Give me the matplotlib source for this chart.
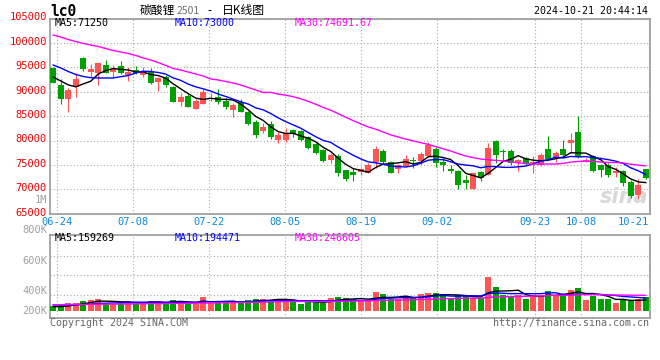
import numpy as np
import pandas as pd
import matplotlib
matplotlib.use('agg')
import matplotlib.pyplot as plt
from matplotlib import transforms

# one candle per trading day, 2024-06-21 .. 2024-10-21
opens = [94900, 91370, 88510, 91030, 96970, 94100, 93900, 95470, 94100, 95340,
         93420, 94450, 93420, 94100, 92060, 93080, 91030, 87960, 89190, 86460,
         87480, 89050, 88980, 88160, 86250, 87960, 85910, 83860, 81880, 83380,
         80100, 80100, 82150, 81950, 80650, 79220, 78050, 76000, 76830, 73900,
         73510, 73510, 73370, 75560, 77810, 75560, 74260, 74740, 76040, 75900,
         76790, 78360, 75630, 74260, 73720, 71870, 70100, 73510, 72830, 79860,
         77950, 77810, 75560, 76450, 75290, 75080, 78290, 76450, 78160, 79520,
         81710, 75800, 76790, 74950, 75000, 73240, 73800, 71400, 68830, 74090]
highs = [95000, 92540, 90830, 93900, 97180, 95680, 95880, 96500, 95470, 96360,
         94990, 95270, 94990, 94790, 93080, 93420, 91170, 89670, 89530, 88440,
         90490, 89800, 90490, 88640, 87620, 88440, 86120, 84200, 83520, 84000,
         81810, 82490, 82360, 82100, 80920, 79400, 78200, 77510, 77240, 73900,
         74400, 74400, 75290, 78840, 78160, 75770, 75220, 77130, 76650, 77680,
         79660, 78700, 76450, 75080, 73920, 73030, 73240, 73720, 79520, 80070,
         78160, 78160, 76240, 76650, 76790, 77470, 80890, 77810, 80200, 81570,
         85120, 76500, 76930, 75200, 75290, 74500, 73900, 72000, 72040, 74200]
lows = [91800, 87480, 85840, 88980, 94310, 93080, 91440, 93760, 93080, 93630,
        92260, 93630, 92940, 91580, 90210, 91030, 87820, 87070, 86800, 86460,
        87410, 88160, 87480, 86460, 84890, 85770, 83180, 80580, 81470, 80310,
        79560, 79760, 80650, 79970, 78260, 77240, 75660, 75320, 72730, 71700,
        71670, 73030, 73240, 74400, 75290, 73240, 73370, 74540, 74400, 75080,
        76650, 74540, 73720, 73240, 70100, 70100, 70100, 71670, 72830, 75420,
        75770, 75080, 73720, 75080, 73370, 74740, 75970, 75560, 76790, 77470,
        76450, 75500, 73500, 72500, 72550, 72600, 70600, 68300, 67950, 72040]
closes = [91850, 88510, 90350, 92600, 94650, 94650, 95880, 93900, 94650, 93760,
          94100, 93760, 94100, 91850, 92740, 91370, 87960, 88980, 86930, 88160,
          90010, 89190, 87960, 86930, 87280, 85910, 83380, 81130, 82840, 80650,
          81130, 81470, 81270, 80100, 78400, 77370, 75800, 77030, 73270, 72100,
          72960, 74060, 75080, 78160, 75560, 73370, 74950, 76240, 75770, 77270,
          79180, 75420, 74880, 73720, 70980, 71330, 73240, 72350, 78500, 76930,
          77610, 75420, 75970, 75290, 75560, 76930, 76110, 77470, 76930, 80070,
          76650, 76000, 73720, 73920, 72950, 73850, 71300, 68600, 70880, 72250]
volumes = [73000, 73000, 116000, 116000, 145000, 160000, 174000, 116000, 102000, 116000,
           145000, 102000, 102000, 145000, 145000, 116000, 160000, 131000, 102000, 116000,
           203000, 116000, 131000, 131000, 131000, 116000, 160000, 174000, 174000, 160000,
           174000, 160000, 131000, 102000, 131000, 145000, 116000, 189000, 203000, 189000,
           174000, 145000, 145000, 276000, 247000, 174000, 174000, 203000, 189000, 247000,
           261000, 261000, 218000, 189000, 232000, 218000, 189000, 189000, 493000, 348000,
           232000, 203000, 232000, 174000, 232000, 218000, 290000, 218000, 247000, 305000,
           334000, 160000, 218000, 174000, 174000, 116000, 160000, 145000, 174000, 203000]

ma5_head = [93000, 92200, 91400, 91000]
ma10_head = [95470, 94860, 94140, 93530, 93120, 92870, 92810, 92810, 92810]
ma30_head = [101620, 101210, 100700, 100290, 99880, 99570, 99260, 98850, 98440, 98140,
             97830, 97420, 96910, 96500, 95980, 95370, 94750, 94450, 94040, 93630,
             93220, 92600, 92400, 92090, 91780, 91370, 90860, 90350, 89840]
vol5_head = [62000, 65000, 72000, 87000]
vol10_head = [87000, 87000, 87000, 90000, 94000, 101000, 109000, 113000, 116000]
vol30_head = [91000, 92000, 93000, 94000, 95000, 97000, 99000, 100000, 101000, 102000,
              103000, 104000, 105000, 107000, 108000, 109000, 110000, 111000, 112000, 114000,
              115000, 117000, 118000, 120000, 121000, 123000, 124000, 126000, 128000]

tick_idx = [1, 11, 21, 31, 41, 51, 64, 70, 79]
tick_labels = ['06-24', '07-08', '07-22', '08-05', '08-19', '09-02', '09-23', '10-08', '10-21']
price_ticks = [65000, 70000, 75000, 80000, 85000, 90000, 95000, 100000, 105000]
vol_labels = ['1M', '800K', '600K', '400K', '200K']

RED = '#ff5555'
GREEN = '#00a000'
GRID = '#aaaaaa'
EDGE = '#999999'
MONO = 'DejaVu Sans Mono'
CJK = ['Noto Sans CJK SC', 'DejaVu Sans']
W, H = 660, 360


def fx(px):
    return px / W


def fy(py):
    return 1 - py / H


def moving(vals, n, head):
    ma = pd.Series(vals, dtype=float).rolling(n).mean().to_numpy()
    ma[:n - 1] = head
    return ma


fig = plt.figure(figsize=(6.6, 3.6), dpi=100)
ax = fig.add_axes([fx(49.5), fy(213.7), 600 / W, (213.7 - 18.5) / H])
axv = fig.add_axes([fx(49.5), fy(318.3), 600 / W, (318.3 - 234.7) / H])

x = np.arange(len(closes))
o, h, l, c = map(np.array, (opens, highs, lows, closes))
col = np.where(c >= o, RED, GREEN)

# candles
ax.vlines(x, l, h, colors=col, lw=0.8, zorder=3)
ax.bar(x, np.maximum(np.abs(c - o), 80), bottom=np.minimum(o, c), width=0.76,
       color=col, lw=0, zorder=4)
ax.plot(x, moving(closes, 5, ma5_head), color='black', lw=1, zorder=5)
ax.plot(x, moving(closes, 10, ma10_head), color='#0000ff', lw=1, zorder=5)
ax.plot(x, moving(closes, 30, ma30_head), color='#ff00ff', lw=1, zorder=5)

# volume
axv.bar(x, volumes, width=0.76, color=col, lw=0, zorder=3)
axv.plot(x, moving(volumes, 5, vol5_head), color='black', lw=1, zorder=5)
axv.plot(x, moving(volumes, 10, vol10_head), color='#0000ff', lw=1, zorder=5)
axv.plot(x, moving(volumes, 30, vol30_head), color='#ff00ff', lw=1, zorder=5)

# Sina's date grid steps a little wider than the candles do
gx = (np.array(tick_idx) - 1) * 1.012 + 0.54

for a in (ax, axv):
    a.set_xlim(-0.5, 79.5)
    a.set_xticks(gx)
    a.grid(True, color=GRID, ls=(0, (1, 2)), lw=0.8, zorder=0)
    a.tick_params(length=0)
    for s in a.spines.values():
        s.set_color(EDGE)
        s.set_linewidth(1.2)
    a.set_axisbelow(True)

ax.set_ylim(65000, 105000)
ax.set_yticks(price_ticks)
ax.set_yticklabels([str(t) for t in price_ticks], family=MONO, fontsize=7.5, color='#ee0000')
ax.tick_params(axis='y', pad=2)
ax.set_xticklabels(tick_labels, family=MONO, fontsize=7.5, color='#0a88dd')
ax.tick_params(axis='x', pad=2.5)
ax.get_xticklabels()[-1].set_ha('right')
for lbl in ax.get_yticklabels():
    lbl.set_transform(lbl.get_transform() + transforms.ScaledTranslation(0, 0.02, fig.dpi_scale_trans))

axv.set_ylim(-106000, 1106000)
axv.set_yticks([232000, 522000, 802000])
axv.set_yticklabels([])
axv.set_xticklabels([])

for lbl, py in zip(vol_labels, [200, 230.5, 261, 291, 311]):
    fig.text(fx(47), fy(py), lbl, ha='right', va='center', family=MONO, fontsize=7.5, color='#a0a0a0')

ax.text(0.998, 0.035, 'sina', transform=ax.transAxes, ha='right', va='bottom', fontsize=15,
        fontweight='bold', style='italic', color='#d8d8d8', zorder=1)

# header
fig.text(fx(50), fy(11), 'lc0', ha='left', va='center', family=MONO, fontweight='bold', fontsize=10.5)
fig.text(fx(140), fy(10.5), '碳酸锂', ha='left', va='center', family=CJK, fontsize=8.5)
fig.text(fx(177), fy(11), '2501', ha='left', va='center', family=CJK, fontsize=7.5, color='#707070')
fig.text(fx(207), fy(10.5), '-', ha='left', va='center', family=CJK, fontsize=8.5)
fig.text(fx(222), fy(10.5), '日K线图', ha='left', va='center', family=CJK, fontsize=8.5)
fig.text(fx(648), fy(11), '2024-10-21 20:44:14', ha='right', va='center', family=MONO, fontsize=7.2)

fig.text(fx(55), fy(23.5), 'MA5:71250', va='center', family=MONO, fontsize=7.2, color='black')
fig.text(fx(175), fy(23.5), 'MA10:73000', va='center', family=MONO, fontsize=7.2, color='#0000ff')
fig.text(fx(295), fy(23.5), 'MA30:74691.67', va='center', family=MONO, fontsize=7.2, color='#ff00ff')
fig.text(fx(55), fy(238), 'MA5:159269', va='center', family=MONO, fontsize=7.2, color='black')
fig.text(fx(175), fy(238), 'MA10:194471', va='center', family=MONO, fontsize=7.2, color='#0000ff')
fig.text(fx(295), fy(238), 'MA30:246605', va='center', family=MONO, fontsize=7.2, color='#ff00ff')

fig.text(fx(50), fy(323), 'Copyright 2024 SINA.COM', va='center', family=MONO, fontsize=7.2, color='#666666')
fig.text(fx(649), fy(323), 'http://finance.sina.com.cn', ha='right', va='center', family=MONO,
         fontsize=7.2, color='#666666')

fig.savefig('out.png', dpi=100)
